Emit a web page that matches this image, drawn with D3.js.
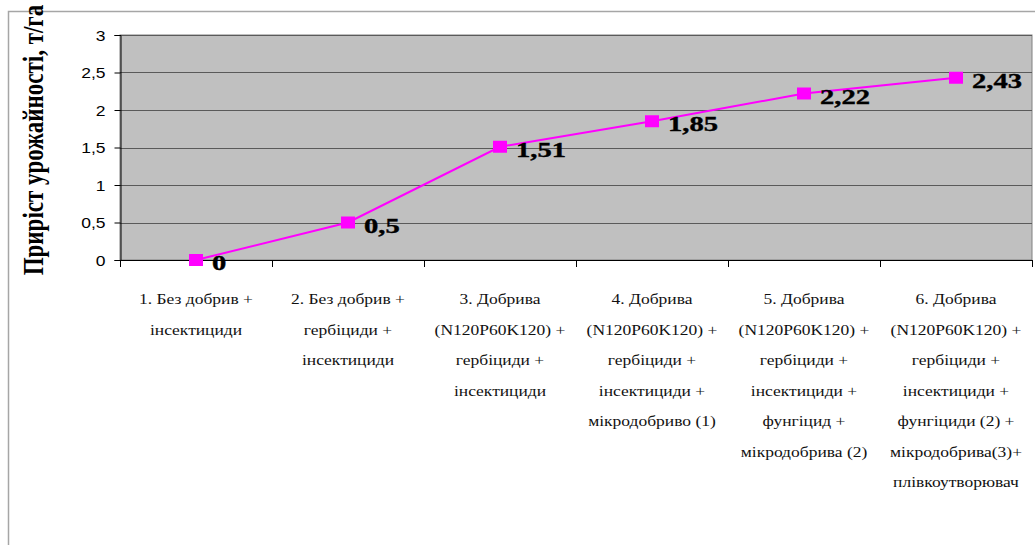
<!DOCTYPE html>
<html>
<head>
<meta charset="utf-8">
<script src="https://cdn.jsdelivr.net/npm/d3@7"></script>
<style>
  html, body { margin: 0; padding: 0; background: #fff; }
  svg { display: block; }
</style>
</head>
<body>
<svg id="chart" width="1035" height="545"></svg>
<script>
// Variants of treatment (each label split into lines)
const categories = [
  ["1. Без добрив +", "інсектициди"],
  ["2. Без добрив +", "гербіциди +", "інсектициди"],
  ["3. Добрива", "(N120P60K120) +", "гербіциди +", "інсектициди"],
  ["4. Добрива", "(N120P60K120) +", "гербіциди +", "інсектициди +", "мікродобриво (1)"],
  ["5. Добрива", "(N120P60K120) +", "гербіциди +", "інсектициди +", "фунгіцид +", "мікродобрива (2)"],
  ["6. Добрива", "(N120P60K120) +", "гербіциди +", "інсектициди +", "фунгіциди (2) +", "мікродобрива(3)+", "плівкоутворювач"]
];
// Yield increase, t/ha
const yieldGain = [0, 0.5, 1.51, 1.85, 2.22, 2.43];
const yTicks = [0, 0.5, 1, 1.5, 2, 2.5, 3];
const yTickLabels = ["0", "0,5", "1", "1,5", "2", "2,5", "3"];
const yTitle = "Приріст урожайності, т/га";

const svg = d3.select("#chart");
const plot = { left: 120, right: 1032, top: 35, bottom: 260 };
const sx = 1.25; // horizontal text stretch

const x = d3.scaleBand()
  .domain(d3.range(categories.length))
  .range([plot.left, plot.right])
  .paddingInner(0).paddingOuter(0);
const y = d3.scaleLinear().domain([0, 3]).range([plot.bottom, plot.top]);

// outer chart frame
svg.append("rect")
  .attr("x", 8.5).attr("y", 11.5)
  .attr("width", 1100).attr("height", 600)
  .attr("fill", "#fff")
  .attr("stroke", "#a6a6a6").attr("stroke-width", 1.5);

// plot area
svg.append("rect")
  .attr("x", plot.left).attr("y", plot.top)
  .attr("width", plot.right - plot.left).attr("height", plot.bottom - plot.top)
  .attr("fill", "#c0c0c0")
  .attr("stroke", "#808080").attr("stroke-width", 1);

// horizontal gridlines
svg.append("g")
  .selectAll("line")
  .data(yTicks.filter(d => d > 0))
  .join("line")
  .attr("x1", plot.left).attr("x2", plot.right)
  .attr("y1", d => Math.round(y(d)) + 0.5).attr("y2", d => Math.round(y(d)) + 0.5)
  .attr("stroke", "#5a5a5a").attr("stroke-width", 1);

// y axis
const yAxis = svg.append("g")
  .attr("transform", `translate(${plot.left + 0.5},0)`)
  .call(d3.axisLeft(y).tickValues(yTicks).tickSize(6).tickFormat((d, i) => yTickLabels[i]));
yAxis.select(".domain").attr("stroke", "#000");
yAxis.selectAll(".tick line").attr("stroke", "#000");
yAxis.selectAll(".tick text").remove();
yAxis.selectAll(".tick")
  .append("text")
  .attr("transform", `translate(-15,5) scale(${sx},1)`)
  .attr("text-anchor", "end")
  .attr("fill", "#000")
  .style("font-family", "'Liberation Sans', Arial, sans-serif")
  .style("font-size", "14px")
  .text((d, i) => yTickLabels[i]);

// x axis line with boundary ticks
svg.append("line")
  .attr("x1", plot.left).attr("x2", plot.right)
  .attr("y1", plot.bottom + 0.5).attr("y2", plot.bottom + 0.5)
  .attr("stroke", "#000");
const bounds = d3.range(categories.length + 1).map(i => plot.left + i * x.bandwidth());
svg.append("g").selectAll("line")
  .data(bounds)
  .join("line")
  .attr("x1", d => Math.round(d) + 0.5).attr("x2", d => Math.round(d) + 0.5)
  .attr("y1", plot.bottom).attr("y2", plot.bottom + 7)
  .attr("stroke", "#000");

// category labels
const catG = svg.append("g")
  .style("font-family", "'Liberation Serif', 'Times New Roman', serif")
  .style("font-size", "14px")
  .attr("fill", "#111");
categories.forEach((lines, i) => {
  const cx = x(i) + x.bandwidth() / 2;
  lines.forEach((ln, j) => {
    catG.append("text")
      .attr("transform", `translate(${cx},${304 + j * 30.5}) scale(${sx},1)`)
      .attr("text-anchor", "middle")
      .text(ln);
  });
});

// y title
svg.append("text")
  .attr("transform", `translate(43,140) scale(${sx},1) rotate(-90)`)
  .attr("text-anchor", "middle")
  .attr("fill", "#000")
  .style("font-family", "'Liberation Serif', 'Times New Roman', serif")
  .style("font-weight", "bold")
  .style("font-size", "23px")
  .text(yTitle);

// series line
const cxOf = i => x(i) + x.bandwidth() / 2;
svg.append("path")
  .datum(yieldGain)
  .attr("fill", "none")
  .attr("stroke", "#ff00ff")
  .attr("stroke-width", 2)
  .attr("d", d3.line().x((d, i) => cxOf(i)).y(d => y(d)));

// markers
svg.append("g").selectAll("rect")
  .data(yieldGain)
  .join("rect")
  .attr("x", (d, i) => cxOf(i) - 7)
  .attr("y", d => y(d) - 6)
  .attr("width", 14).attr("height", 12)
  .attr("fill", "#ff00ff");

// value labels
svg.append("g").selectAll("text")
  .data(yieldGain)
  .join("text")
  .attr("transform", (d, i) => `translate(${cxOf(i) + 16},${y(d) + 10}) scale(1.3,1)`)
  .attr("fill", "#000")
  .style("font-family", "'Liberation Serif', 'Times New Roman', serif")
  .style("font-weight", "bold")
  .style("font-size", "22px")
  .style("stroke", "#000")
  .style("stroke-width", 0.4)
  .text(d => String(d).replace(".", ","));
</script>
</body>
</html>
